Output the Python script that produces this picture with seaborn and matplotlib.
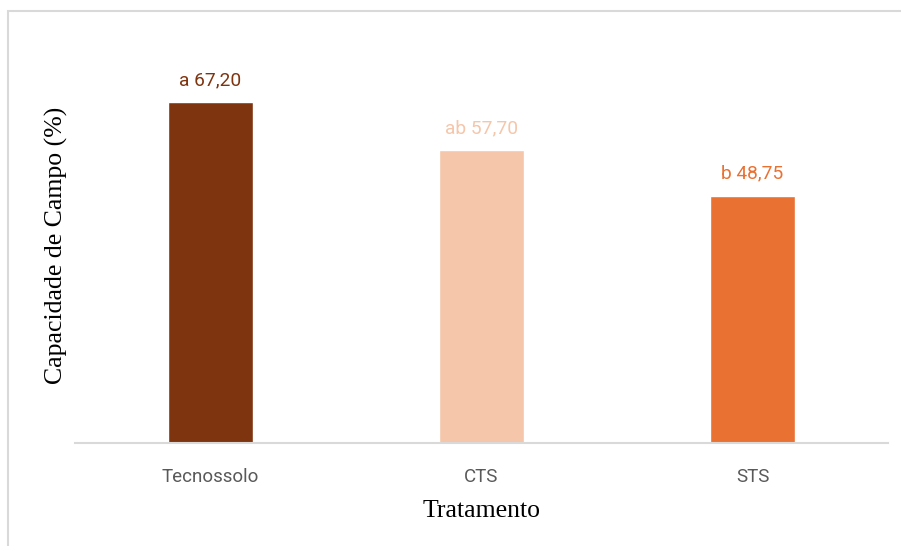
import matplotlib
matplotlib.use('Agg')
import matplotlib.pyplot as plt
import seaborn as sns
import pandas as pd
from matplotlib.patches import Rectangle

# data
tratamentos = ['Tecnossolo', 'CTS', 'STS']
capacidade = [67.20, 57.70, 48.75]
letras = ['a', 'ab', 'b']
cores = ['#7F3410', '#F5C6AA', '#E97132']

df = pd.DataFrame({'Tratamento': tratamentos, 'Capacidade': capacidade})

sns.set_style('white')
tick_font = ['Liberation Sans Narrow', 'Roboto', 'DejaVu Sans']
serif_font = ['Liberation Serif', 'DejaVu Serif']

fig = plt.figure(figsize=(9.01, 5.46), dpi=100)
ax = fig.add_axes([75/901, 1-443/546, 813/901, (443-37)/546])

sns.barplot(data=df, x='Tratamento', y='Capacidade', hue='Tratamento',
            palette=cores, width=0.314, saturation=1, legend=False, ax=ax)
ax.set_ylim(0, 80)

for i, (v, l, c) in enumerate(zip(capacidade, letras, cores)):
    ax.text(i, v + 3.3, f'{l} {v:.2f}'.replace('.', ','), ha='center', va='baseline',
            color=c, fontsize=13.8, family=tick_font)

for s in ['top', 'right', 'left']:
    ax.spines[s].set_visible(False)
ax.spines['bottom'].set_color('#D9D9D9')
ax.spines['bottom'].set_linewidth(1.5)
ax.set_yticks([])
ax.tick_params(axis='x', length=0, pad=18, labelcolor='#595959')
for t in ax.get_xticklabels():
    t.set_family(tick_font)
    t.set_fontsize(13.5)

ax.set_xlabel('Tratamento', family=serif_font, fontsize=18.5, color='black')
ax.set_ylabel('Capacidade de Campo (%)', family=serif_font, fontsize=18.5, color='black')
ax.xaxis.set_label_coords(0.5, -(500 - 443) / 406)
ax.yaxis.set_label_coords(-7 / 813, (443 - 245) / 406)

# light frame around the chart area
fig.patches.append(Rectangle((8/901, -0.1), 1.2, 1 - 11/546 + 0.1, transform=fig.transFigure,
                             fill=False, edgecolor='#D9D9D9', linewidth=1.5))

fig.savefig('out.png', dpi=100)
